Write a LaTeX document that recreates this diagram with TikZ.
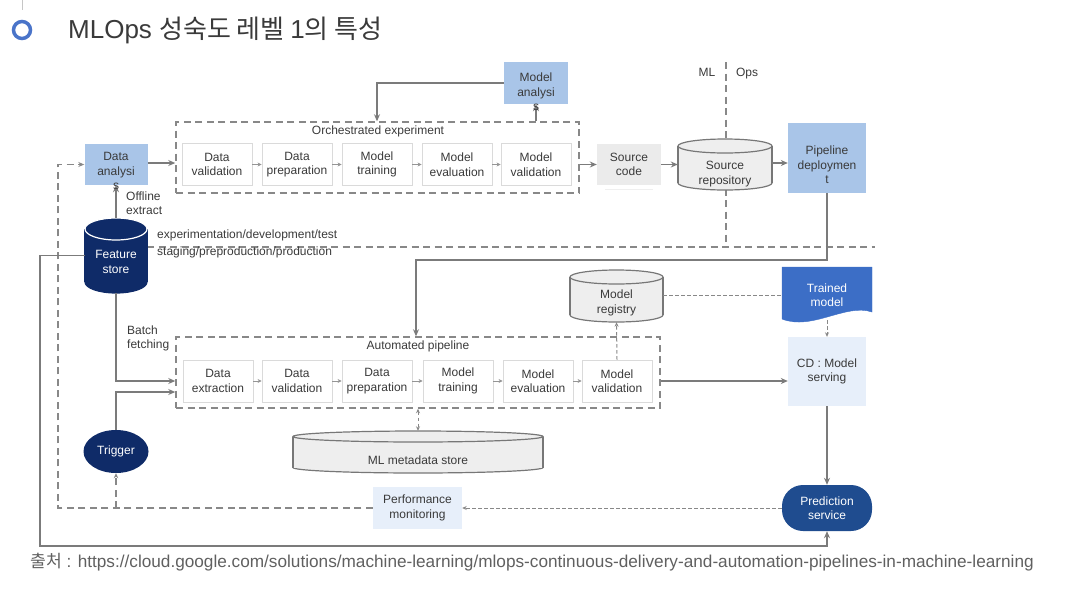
\documentclass[tikz,border=0pt]{standalone}
\usepackage{fontspec}
\setmainfont{Liberation Sans}
\newfontfamily\krfont{Noto Sans CJK KR}
\usetikzlibrary{arrows.meta,calc,shapes.geometric}

\definecolor{lblue}{HTML}{A9C5E8}
\definecolor{navy}{HTML}{0F2B68}
\definecolor{tmblue}{HTML}{3C6EC6}
\definecolor{psblue}{HTML}{1F4C8F}
\definecolor{pale}{HTML}{E7EFFA}
\definecolor{srcgray}{HTML}{EBEBEB}
\definecolor{cylfill}{HTML}{EEEEEE}
\definecolor{cylline}{HTML}{777777}
\definecolor{linec}{HTML}{7B7B7B}
\definecolor{dashc}{HTML}{888888}
\definecolor{txtc}{HTML}{3A3A3A}
\definecolor{boxline}{HTML}{DADADA}
\definecolor{ringc}{HTML}{4A74C9}
\definecolor{srctxt}{HTML}{606060}

\newcommand\cylshape[8]{%
 \pgfmathsetmacro\cxa{(#1+#3)/2}\pgfmathsetmacro\rxa{(#3-#1)/2}%
 \pgfmathsetmacro\yta{#2+#5}\pgfmathsetmacro\yba{#4-#5}%
 \path[fill=#6,draw=#7,line width=1.2pt] (\cxa,\yba) ellipse [x radius=\rxa, y radius=#5];
 \fill[#6] (#1,\yta) rectangle (#3,\yba);
 \draw[#7,line width=1.2pt] (#1,\yta) -- (#1,\yba) (#3,\yta) -- (#3,\yba);
 \path[fill=#6,draw=#8,line width=1.2pt] (\cxa,\yta) ellipse [x radius=\rxa, y radius=#5];
}

\begin{document}
\begin{tikzpicture}[x=1pt,y=-1pt,
  lbl/.style={font=\fontsize{12}{14.5}\selectfont, align=center, text=txtc, inner sep=0pt},
  plain/.style={font=\fontsize{12}{14.5}\selectfont, align=left, text=txtc, inner sep=0pt},
  stagebox/.style={draw=boxline, line width=0.8pt, fill=white, minimum width=70pt, minimum height=42pt, inner sep=0pt, lbl},
  dashbox/.style={draw=dashc, line width=1.5pt, dash pattern=on 7pt off 4.5pt, minimum height=71pt, inner sep=0pt},
  bluebox/.style={fill=lblue, inner sep=0pt},
  palebox/.style={fill=pale, inner sep=0pt, lbl},
  anchorbox/.style={inner sep=0pt},
  conn/.style={draw=linec, line width=1.4pt, -{Stealth[length=7pt,width=6pt]}},
  plainline/.style={draw=linec, line width=1.4pt},
  tiny/.style={draw=linec!80, line width=0.8pt, -{Stealth[length=4pt,width=4pt]}},
  dline/.style={draw=dashc, line width=1.4pt, dash pattern=on 7pt off 4.5pt},
  fdash/.style={draw=dashc, line width=1pt, dash pattern=on 3.5pt off 2.5pt},
  fhead/.style={-{Stealth[length=4.5pt,width=4pt]}},
]
\useasboundingbox (0,0) rectangle (1072,598);

% title
\draw[gray!45, line width=0.8pt] (22,0) -- (22,10);
\draw[ringc, line width=3.5pt] (22,30) circle [radius=8.5];
\node[anchor=base west, inner sep=0pt, text=txtc, font=\fontsize{26}{30}\selectfont] (title) at (68,38) {MLOps {\krfont 성숙도 레벨 }1{\krfont 의 특성}};

% environment dashed lines
\coordinate (envR) at (875,247);
\coordinate (mlTop) at (726,62);
\coordinate (lft) at (58,300);
\coordinate (outer) at (40,546);
\coordinate (turn) at (416,260);

% ---------- top row ----------
\node[bluebox, minimum width=63pt, minimum height=41pt] (da) at (116,164.5) {};

\node[dashbox, minimum width=403pt] (orch) at (377.5,157.5) {};
\node[lbl] (orch-t) at (378,131) {Orchestrated experiment};
\node[stagebox] (dv) at (217,164.5) {Data\\validation};
\node[stagebox] (dp) at (297,164.5) {Data\\preparation};
\node[stagebox] (mt) at (377,164.5) {Model\\training};
\node[stagebox] (me) at (457,164.5) {Model\\evaluation};
\node[stagebox] (mv) at (536,164.5) {Model\\validation};

\node[bluebox, minimum width=64pt, minimum height=42pt] (ma) at (536,83) {};

\draw[srcgray!80, line width=1pt] (605,189.5) -- (653,189.5);
\node[fill=srcgray, inner sep=0pt, minimum width=64pt, minimum height=41pt, lbl] (src) at (629,164.5) {Source\\code};

\draw[dline] (mlTop) -- (mlTop |- envR);
\node[lbl, anchor=base] (ml) at (707,76) {ML};
\node[lbl, anchor=base] (ops) at (747,76) {Ops};

\cylshape{678}{139}{772}{190}{7}{cylfill}{cylline}{cylline}
\node[anchorbox, minimum width=94pt, minimum height=51pt] (repo) at (725,164.5) {};
\node[lbl] (repo-t) at (725,174) {Source\\repository};

\node[bluebox, minimum width=78pt, minimum height=70pt] (pipe) at (827,158) {};
\node[lbl] (pipe-t) at (827,165) {Pipeline\\deploymen\\t};

% ---------- feature store ----------
\draw[dline] (envR -| 147,0) -- (envR);
\cylshape{85}{218}{147}{293}{11}{navy}{navy}{white}
\node[anchorbox, minimum width=62pt, minimum height=75pt] (fs) at (116,255.5) {};
\node[lbl, text=white] (fs-t) at (116,262) {Feature\\store};
\node[plain, anchor=base west] (env1) at (157,238) {experimentation/development/test};
\node[plain, anchor=base west] (env2) at (157,255) {staging/preproduction/production};
\node[plain, anchor=base west] (offl) at (126,214.5) {Offline\\extract};
\node[plain, anchor=base west] (batch) at (127,348.5) {Batch\\fetching};

% ---------- automated pipeline ----------
\node[dashbox, minimum width=484pt] (auto) at (418,372.5) {};
\node[lbl] (auto-t) at (418,346) {Automated pipeline};
\node[stagebox] (ade) at (218,381) {Data\\extraction};
\node[stagebox] (adv) at (297,381) {Data\\validation};
\node[stagebox] (adp) at (377,381) {Data\\preparation};
\node[stagebox] (amt) at (458,381) {Model\\training};
\node[stagebox] (ame) at (538,381) {Model\\evaluation};
\node[stagebox] (amv) at (617,381) {Model\\validation};

\cylshape{570}{270}{663}{322}{7}{cylfill}{cylline}{cylline}
\node[anchorbox, minimum width=93pt, minimum height=52pt] (reg) at (616.5,296) {};
\node[lbl] (reg-t) at (616.5,303) {Model\\registry};

\cylshape{293}{431}{543}{473}{5.5}{cylfill}{cylline}{cylline}
\node[anchorbox, minimum width=250pt, minimum height=42pt] (meta) at (418,452) {};
\node[lbl] (meta-t) at (418,460) {ML metadata store};

\filldraw[fill=tmblue, draw=tmblue] (782,267) -- (872,267) -- (872,312) .. controls (846,303) and (812,331) .. (782,319) -- cycle;
\node[anchorbox, minimum width=90pt, minimum height=53pt] (tm) at (827,293.5) {};
\node[lbl, text=white] (tm-t) at (827,295) {Trained\\model};

\node[palebox, minimum width=78pt, minimum height=69pt] (cd) at (827,371.5) {CD : Model\\serving};

\node[fill=navy, ellipse, minimum width=65pt, minimum height=43pt, inner sep=0pt, lbl, text=white] (trig) at (116,451.5) {Trigger};
\node[palebox, minimum width=89pt, minimum height=42pt] (perf) at (417.5,508) {Performance\\monitoring};
\node[fill=psblue, rounded corners=21pt, minimum width=90pt, minimum height=46pt, inner sep=0pt, lbl, text=white] (pred) at (827,508) {Prediction\\service};

% ---------- connectors ----------
\draw[conn] (fs.north) -- (da.south);
\draw[conn] (da.east |- 0,163) -- (orch.west |- 0,163);
\foreach \a/\b in {dv/dp,dp/mt,mt/me,me/mv,ade/adv,adv/adp,adp/amt,amt/ame,ame/amv}
  \draw[tiny] (\a.east) -- (\b.west);
\draw[conn] (ma.south |- orch.north) -- (ma.south);
\draw[conn] (ma.west) -| (mt.north |- orch.north);
\draw[conn] (src.west -| orch.east) -- (src.west);
\draw[conn] (src.east) -- (repo.west);
\draw[conn] (repo.east |- 0,163) -- (pipe.west |- 0,163);
\draw[conn] (pipe.south) |- (turn) -- (turn |- auto.north);

\draw[conn] (fs.south) |- (auto.west |- ade);
\draw[conn] (trig.north) |- ($(auto.west)+(0,19.5)$);
\draw[conn] (auto.east |- amv) -- (cd.west |- amv);
\draw[fdash, fhead] (amv.north) -- (reg.south);
\draw[fdash] (reg.east |- 0,295) -- (tm.west |- 0,295);
\draw[fdash, fhead] (tm.south) -- (cd.north);
\draw[conn] (cd.south) -- (pred.north);
\draw[fdash, fhead] (pred.west) -- (perf.east);
\draw[fdash, {Stealth[length=4.5pt,width=4pt]}-{Stealth[length=4.5pt,width=4pt]}] (auto.south) -- (meta.north);

\draw[dline, -{Stealth[length=6pt,width=5pt]}] (perf.west) -| (lft) |- (da.west);
\draw[dline, -{Stealth[length=5pt,width=4.5pt]}] (trig.south |- perf.west) -- (trig.south);
\draw[plainline, -{Stealth[length=7pt,width=6pt]}] (fs.west) -| (outer) -| (pred.south);

% overflowing box labels drawn on top of the connectors
\node[lbl] (da-t) at (116,171) {Data\\analysi\\s};
\node[lbl] (ma-t) at (536,92) {Model\\analysi\\s};

% source
\node[anchor=base west, inner sep=0pt, text=srctxt, font=\fontsize{17.2}{20}\selectfont] (cite) at (30,567) {{\krfont 출처} : https://cloud.google.com/solutions/machine-learning/mlops-continuous-delivery-and-automation-pipelines-in-machine-learning};
\end{tikzpicture}
\end{document}
